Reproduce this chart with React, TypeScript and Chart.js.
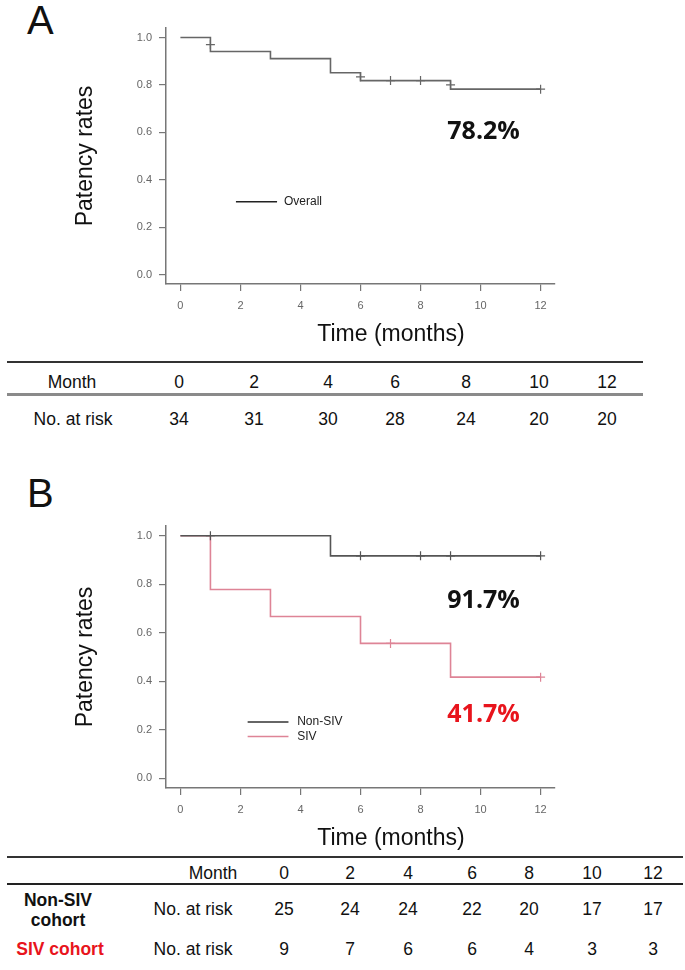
import React, { useEffect, useRef } from "react";
import { Chart, registerables } from "chart.js";
Chart.register(...registerables);

// ---------- data ----------
const xTicks = [0, 2, 4, 6, 8, 10, 12];
const yTicks = [0, 0.2, 0.4, 0.6, 0.8, 1.0];

const overallTimes = [0, 1, 3, 5, 6, 9, 12];
const overallSurv = [1.0, 0.941, 0.911, 0.851, 0.818, 0.782, 0.782];
const overallCensorTimes = [1, 6, 7, 8, 9, 12];
const overallCensorSurv = [0.97, 0.834, 0.818, 0.818, 0.8, 0.782];

const nonSivTimes = [0, 5, 12];
const nonSivSurv = [1.0, 0.917, 0.917];
const nonSivCensorTimes = [1, 6, 8, 9, 12];
const nonSivCensorSurv = [1.0, 0.917, 0.917, 0.917, 0.917];

const sivTimes = [0, 1, 3, 6, 9, 12];
const sivSurv = [1.0, 0.778, 0.667, 0.556, 0.417, 0.417];
const sivCensorTimes = [7, 12];
const sivCensorSurv = [0.556, 0.417];

const tableMonths = ["0", "2", "4", "6", "8", "10", "12"];
const atRiskOverall = [34, 31, 30, 28, 24, 20, 20];
const atRiskNonSiv = [25, 24, 24, 22, 20, 17, 17];
const atRiskSiv = [9, 7, 6, 6, 4, 3, 3];

// ---------- styles / layout ----------
const SANS = '"Liberation Sans", Arial, sans-serif';
const BIG = '"Open Sans", "Liberation Sans", sans-serif';
const GRAY_LINE = "#666666";
const SIV_PINK = "#de8496";
const RED = "#e8141c";

const tableAColX = [179, 254, 328, 395, 466, 539, 607];
const tableBColX = [284, 350, 408, 472, 529, 592, 653];

const pts = (xs: number[], ys: number[]) => xs.map((x, i) => ({ x, y: ys[i] }));

const annotPlugin = {
  id: "annot",
  afterDraw(chart: any, _args: any, opts: any) {
    const { ctx, chartArea, scales } = chart;
    const xs = scales.x;
    const ys = scales.y;
    ctx.save();
    ctx.textAlign = "center";
    ctx.textBaseline = "middle";
    ctx.fillStyle = "#111";
    ctx.font = `23px ${SANS}`;
    ctx.fillText("Time (months)", chartArea.left + 225, chartArea.bottom + 51);

    for (const a of opts.labels || []) {
      ctx.font = `bold 25px ${BIG}`;
      ctx.fillStyle = a.color;
      ctx.fillText(a.text, xs.getPixelForValue(a.x), ys.getPixelForValue(a.y));
    }
    for (const l of opts.legend || []) {
      const py = ys.getPixelForValue(l.y);
      ctx.strokeStyle = l.color;
      ctx.lineWidth = 1.6;
      ctx.beginPath();
      ctx.moveTo(xs.getPixelForValue(l.x0), py);
      ctx.lineTo(xs.getPixelForValue(l.x1), py);
      ctx.stroke();
      ctx.font = `12px ${SANS}`;
      ctx.fillStyle = "#222";
      ctx.textAlign = "left";
      ctx.fillText(l.text, xs.getPixelForValue(l.tx), py);
      ctx.textAlign = "center";
    }
    ctx.restore();
  },
};

function makeConfig(datasets: any[], labels: any[], legend: any[]) {
  const tickFont = { size: 11, family: SANS };
  return {
    type: "scatter",
    data: { datasets },
    plugins: [annotPlugin],
    options: {
      animation: false,
      responsive: false,
      maintainAspectRatio: false,
      layout: { padding: { top: 28, right: 130, left: 0, bottom: 0 } },
      plugins: {
        legend: { display: false },
        tooltip: { enabled: false },
        annot: { labels, legend },
      },
      scales: {
        x: {
          type: "linear",
          min: -0.48,
          max: 12.48,
          afterBuildTicks: (s: any) => {
            s.ticks = xTicks.map((v) => ({ value: v }));
          },
          afterFit: (s: any) => {
            s.height = 66;
          },
          grid: { display: true, drawOnChartArea: false, drawTicks: true, tickLength: 7, color: "#777", lineWidth: 1.2 },
          border: { display: true, color: "#777", width: 1.5 },
          ticks: { font: tickFont, color: "#666", padding: 8, maxRotation: 0, autoSkip: false, callback: (v: any) => String(v) },
        },
        y: {
          type: "linear",
          min: -0.04,
          max: 1.04,
          afterBuildTicks: (s: any) => {
            s.ticks = yTicks.map((v) => ({ value: v }));
          },
          afterFit: (s: any) => {
            s.width = 166;
          },
          title: { display: true, text: "Patency rates", font: { size: 23, family: SANS }, color: "#111", padding: { top: 72, bottom: 0 } },
          grid: { display: true, drawOnChartArea: false, drawTicks: true, tickLength: 7, color: "#777", lineWidth: 1.2 },
          border: { display: true, color: "#777", width: 1.5 },
          ticks: { font: tickFont, color: "#666", padding: 7, autoSkip: false, callback: (v: any) => Number(v).toFixed(1) },
        },
      },
    },
  };
}

const curve = (data: any[], color: string) => ({
  data,
  showLine: true,
  stepped: true,
  borderColor: color,
  borderWidth: 1.6,
  pointRadius: 0,
  fill: false,
});
const censor = (data: any[], color: string) => ({
  data,
  showLine: false,
  pointStyle: "cross",
  pointRadius: 4.5,
  borderColor: color,
  backgroundColor: color,
  pointBorderWidth: 1.2,
});

function KMChart({ config, top, height }: { config: any; top: number; height: number }) {
  const ref = useRef<HTMLCanvasElement | null>(null);
  useEffect(() => {
    if (!ref.current) return;
    const chart = new Chart(ref.current, config);
    return () => chart.destroy();
  }, [config]);
  return (
    <canvas
      ref={ref}
      width={685}
      height={height}
      style={{ position: "absolute", left: 0, top, width: 685, height, display: "block" }}
    />
  );
}

const configA = makeConfig(
  [curve(pts(overallTimes, overallSurv), GRAY_LINE), censor(pts(overallCensorTimes, overallCensorSurv), GRAY_LINE)],
  [{ text: "78.2%", x: 10.1, y: 0.6, color: "#111" }],
  [{ text: "Overall", x0: 1.85, x1: 3.22, tx: 3.45, y: 0.307, color: "#222" }]
);

const configB = makeConfig(
  [
    curve(pts(nonSivTimes, nonSivSurv), "#555555"),
    censor(pts(nonSivCensorTimes, nonSivCensorSurv), "#555555"),
    curve(pts(sivTimes, sivSurv), SIV_PINK),
    censor(pts(sivCensorTimes, sivCensorSurv), SIV_PINK),
  ],
  [
    { text: "91.7%", x: 10.1, y: 0.73, color: "#111" },
    { text: "41.7%", x: 10.1, y: 0.26, color: RED },
  ],
  [
    { text: "Non-SIV", x0: 2.24, x1: 3.6, tx: 3.89, y: 0.232, color: "#333" },
    { text: "SIV", x0: 2.24, x1: 3.6, tx: 3.89, y: 0.172, color: SIV_PINK },
  ]
);

const Cell = ({ x, y, children, style }: any) => (
  <div
    style={{
      position: "absolute",
      left: x,
      top: y,
      transform: "translate(-50%, -50%)",
      whiteSpace: "nowrap",
      fontFamily: SANS,
      fontSize: 17.5,
      lineHeight: 1,
      color: "#111",
      textAlign: "center",
      ...style,
    }}
  >
    {children}
  </div>
);

const HLine = ({ x0, x1, y, h, color }: any) => (
  <div style={{ position: "absolute", left: x0, top: y - h / 2, width: x1 - x0, height: h, background: color }} />
);

export default function App() {
  return (
    <div style={{ position: "absolute", left: 0, top: 0, width: 685, height: 970, background: "#fff", overflow: "hidden" }}>
      <div style={{ position: "absolute", left: 27, top: 0, fontFamily: SANS, fontSize: 40, lineHeight: "40px", color: "#111" }}>A</div>
      <div style={{ position: "absolute", left: 27, top: 473, fontFamily: SANS, fontSize: 40, lineHeight: "40px", color: "#111" }}>B</div>

      <KMChart config={configA} top={0} height={350} />
      <KMChart config={configB} top={498} height={356} />

      {/* Table A */}
      <HLine x0={7} x1={643} y={362} h={2} color="#333" />
      <Cell x={72} y={383}>Month</Cell>
      {tableMonths.map((m, i) => (
        <Cell key={"am" + i} x={tableAColX[i]} y={383}>{m}</Cell>
      ))}
      <HLine x0={7} x1={643} y={394} h={3} color="#8a8a8a" />
      <Cell x={73} y={420}>No. at risk</Cell>
      {atRiskOverall.map((n, i) => (
        <Cell key={"ar" + i} x={tableAColX[i]} y={420}>{n}</Cell>
      ))}

      {/* Table B */}
      <HLine x0={7} x1={683} y={857} h={2} color="#333" />
      <Cell x={213} y={874}>Month</Cell>
      {tableMonths.map((m, i) => (
        <Cell key={"bm" + i} x={tableBColX[i]} y={874}>{m}</Cell>
      ))}
      <HLine x0={7} x1={683} y={884} h={1.5} color="#222" />
      <Cell x={58} y={910} style={{ fontWeight: "bold", lineHeight: "20px" }}>
        Non-SIV
        <br />
        cohort
      </Cell>
      <Cell x={193} y={910}>No. at risk</Cell>
      {atRiskNonSiv.map((n, i) => (
        <Cell key={"bn" + i} x={tableBColX[i]} y={910}>{n}</Cell>
      ))}
      <Cell x={60} y={950} style={{ fontWeight: "bold", color: RED }}>SIV cohort</Cell>
      <Cell x={193} y={950}>No. at risk</Cell>
      {atRiskSiv.map((n, i) => (
        <Cell key={"bs" + i} x={tableBColX[i]} y={950}>{n}</Cell>
      ))}
    </div>
  );
}
